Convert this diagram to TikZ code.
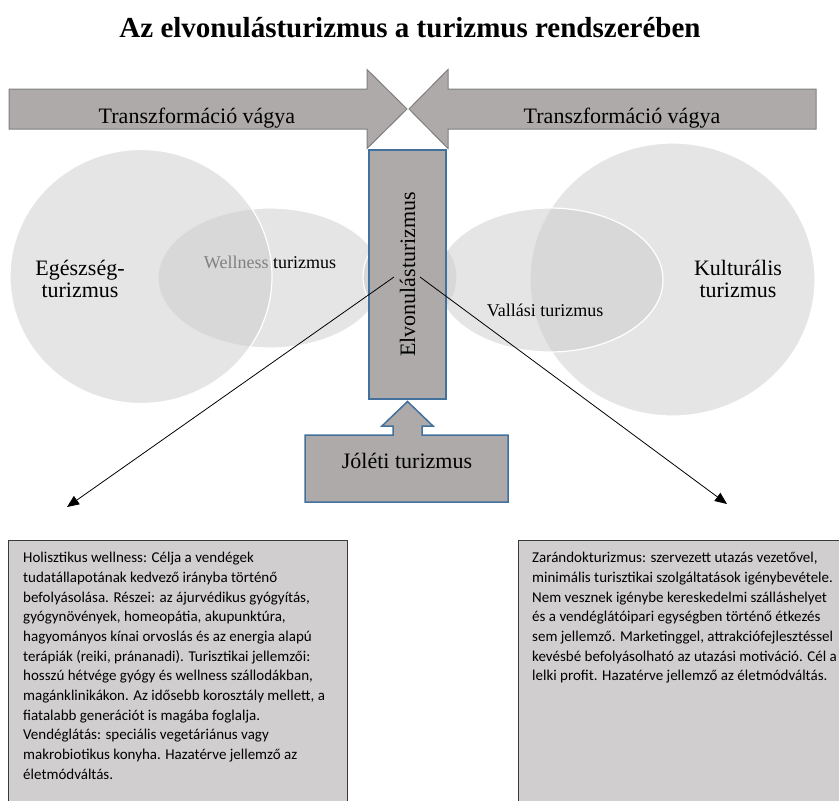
\documentclass[tikz,border=0pt]{standalone}
\usepackage{fontspec}
\setmainfont{Liberation Serif}
\newfontfamily\calibrifont{Carlito}
\usepackage{xcolor}
\usepackage{tikz}
\usetikzlibrary{arrows.meta,positioning,calc}
\definecolor{shapegray}{HTML}{AEAAAA}
\definecolor{shapeedge}{HTML}{7F7F7F}
\definecolor{venngray}{HTML}{CBCBCB}
\definecolor{edgeblue}{HTML}{41719C}
\definecolor{notegray}{HTML}{D0CECE}
\definecolor{notedge}{HTML}{3A3A3A}
\definecolor{wellgray}{HTML}{808080}
\tikzset{
  venn/.style={fill=venngray,fill opacity=0.5,draw=white,line width=1.2pt},
  bigarrow/.style={fill=shapegray,draw=shapeedge,line width=1pt},
  bluebox/.style={fill=shapegray,draw=edgeblue,line width=1.5pt},
  label22/.style={font=\fontsize{22}{22}\selectfont,align=center,inner sep=0pt},
  label18/.style={font=\fontsize{18}{18}\selectfont,inner sep=0pt},
  notebox/.style={draw=notedge,fill=notegray,line width=1.2pt,anchor=north west,minimum height=300},
  notetext/.style={anchor=north west,inner sep=0pt,align=left,font=\calibrifont\fontsize{15}{19.7}\selectfont},
  pointer/.style={-{Triangle[length=12pt,width=10pt]},line width=0.8pt},
}

\begin{document}
\begin{tikzpicture}[x=1pt,y=-1pt]
\useasboundingbox (0,0) rectangle (839,801);
\clip (0,0) rectangle (839,801);

\node[font=\bfseries\fontsize{29}{29}\selectfont,anchor=base,inner sep=0pt] (title) at (410,37) {Az elvonulásturizmus a turizmus rendszerében};

\path[venn] (270,278) ellipse [x radius=112,y radius=70];
\path[venn] (141,276.5) ellipse [x radius=131,y radius=127];
\path[venn] (410,277) circle [radius=47];
\path[venn] (672.5,279.5) ellipse [x radius=142.5,y radius=136.5];
\path[venn] (550,280) ellipse [x radius=113,y radius=72];

\node[label22] (egeszseg) at (80,279) {Egészség-\\turizmus};
\node[label18,anchor=base] (wellness) at (270,268) {{\color{wellgray}Wellness} turizmus};
\node[label18,anchor=base] (vallasi) at (545,316) {Vallási turizmus};
\node[label22] (kulturalis) at (738,279) {Kulturális\\turizmus};

\draw[bigarrow] (9,89) -- (367,89) -- (367,69.5) -- (407,109) -- (367,148.5) -- (367,129) -- (9,129) -- cycle;
\node[label22,anchor=base] (vagyaBal) at (197,123) {Transzformáció vágya};
\draw[bigarrow] (816,89) -- (448,89) -- (448,69.5) -- (409,109) -- (448,148.5) -- (448,129) -- (816,129) -- cycle;
\node[label22,anchor=base] (vagyaJobb) at (622,123) {Transzformáció vágya};

\node[bluebox,label22,rotate=90,minimum width=249,minimum height=77] (elvonulas) at (407.5,274.5) {Elvonulásturizmus};

\draw[bluebox] (305,435) -- (393,435) -- (393,426) -- (382,426) -- (407.5,401.5) -- (433,426) -- (422,426) -- (422,435) -- (508,435) -- (508,502) -- (305,502) -- cycle;
\node[label22,anchor=base] (joleti) at (407,468) {Jóléti turizmus};

\coordinate (startBal) at (394,277);
\coordinate (startJobb) at (420,277);
\coordinate (celBal) at (67,507);
\coordinate (celJobb) at (727,504);
\draw[pointer] (startBal) -- (celBal);
\draw[pointer] (startJobb) -- (celJobb);

\node[notebox,minimum width=339] (holisztikusDoboz) at (8,540) {};
\node[notetext] (holisztikus) at ([xshift=15pt,yshift=-12pt]holisztikusDoboz.north west) {Holisztikus wellness: Célja a vendégek\\
tudatállapotának kedvező irányba történő\\
befolyásolása. Részei: az ájurvédikus gyógyítás,\\
gyógynövények, homeopátia, akupunktúra,\\
hagyományos kínai orvoslás és az energia alapú\\
terápiák (reiki, pránanadi). Turisztikai jellemzői:\\
hosszú hétvége gyógy és wellness szállodákban,\\
magánklinikákon. Az idősebb korosztály mellett, a\\
fiatalabb generációt is magába foglalja.\\
Vendéglátás: speciális vegetáriánus vagy\\
makrobiotikus konyha. Hazatérve jellemző az\\
életmódváltás.};
\node[notebox,minimum width=330] (zarandokDoboz) at (518,540) {};
\node[notetext] (zarandok) at ([xshift=14pt,yshift=-12pt]zarandokDoboz.north west) {Zarándokturizmus: szervezett utazás vezetővel,\\
minimális turisztikai szolgáltatások igénybevétele.\\
Nem vesznek igénybe kereskedelmi szálláshelyet\\
és a vendéglátóipari egységben történő étkezés\\
sem jellemző. Marketinggel, attrakciófejlesztéssel\\
kevésbé befolyásolható az utazási motiváció. Cél a\\
lelki profit. Hazatérve jellemző az életmódváltás.};
\end{tikzpicture}
\end{document}
